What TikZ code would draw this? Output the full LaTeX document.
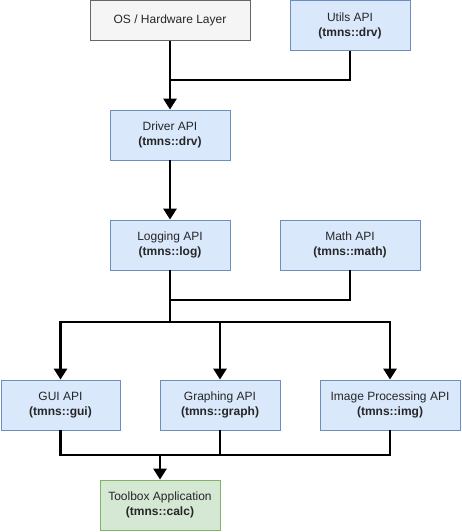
\documentclass[tikz,border=0pt]{standalone}
\usepackage{fontspec}
\setmainfont{Liberation Sans}
\usetikzlibrary{arrows.meta}
\definecolor{bfill}{HTML}{DAE8FC}
\definecolor{bline}{HTML}{6C8EBF}
\definecolor{gfill}{HTML}{D5E8D4}
\definecolor{gline}{HTML}{82B366}
\definecolor{sfill}{HTML}{F5F5F5}
\definecolor{sline}{HTML}{666666}
\tikzset{
  box/.style={draw=bline, fill=bfill, line width=0.8pt, minimum height=50pt, inner sep=0pt, align=center, font=\fontsize{12}{15}\selectfont, text=black!85},
  graybox/.style={box, draw=sline, fill=sfill, minimum height=40pt},
  greenbox/.style={box, draw=gline, fill=gfill},
  conn/.style={line width=2.8pt},
  arr/.style={conn, -{Triangle[width=13pt,length=11pt]}}
}
\begin{document}
\begin{tikzpicture}[x=1pt,y=-1pt]
\useasboundingbox (0,0) rectangle (462,532);
\node[graybox, minimum width=160pt] (os) at (170,20.5) {OS / Hardware Layer};
\node[box, minimum width=120pt] (utils) at (350,25.5) {Utils API\\\textbf{(tmns::drv)}};
\node[box, minimum width=120pt] (drv) at (170,135) {Driver API\\\textbf{(tmns::drv)}};
\node[box, minimum width=120pt] (log) at (170,245) {Logging API\\\textbf{(tmns::log)}};
\node[box, minimum width=140pt] (math) at (350,245) {Math API\\\textbf{(tmns::math)}};
\node[box, minimum width=119pt] (gui) at (60.5,405) {GUI API\\\textbf{(tmns::gui)}};
\node[box, minimum width=120pt] (graph) at (220,405) {Graphing API\\\textbf{(tmns::graph)}};
\node[box, minimum width=140pt] (img) at (390,405) {Image Processing API\\\textbf{(tmns::img)}};
\node[greenbox, minimum width=120pt] (tb) at (160,505) {Toolbox Application\\\textbf{(tmns::calc)}};

\coordinate (j1) at (170,80);
\coordinate (j2) at (170,300);
\coordinate (j3) at (170,322);
\coordinate (j4) at (160,455);

\draw[arr] (os.south) -- (drv.north);
\draw[conn] (utils.south) |- (j1);
\draw[arr] (drv.south) -- (log.north);
\draw[conn] (log.south) -- (j3);
\draw[conn] (math.south) |- (j2);
\draw[arr] (j3) -| (gui.north);
\draw[arr] (j3) -| (graph.north);
\draw[arr] (j3) -| (img.north);
\draw[conn] (gui.south) |- (j4);
\draw[conn] (graph.south) |- (j4);
\draw[conn] (img.south) |- (j4);
\draw[arr] (j4) -- (tb.north);
\end{tikzpicture}
\end{document}
